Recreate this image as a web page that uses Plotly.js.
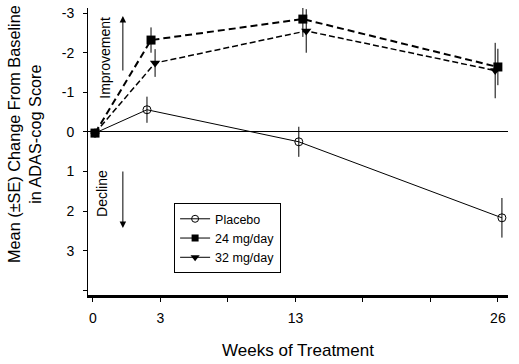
<!DOCTYPE html>
<html>
<head>
<meta charset="utf-8">
<script src="https://cdn.plot.ly/plotly-3.0.1.min.js"></script>
<style>html,body{margin:0;padding:0;background:#fff;}#chart{width:519px;height:364px;}</style>
</head>
<body>
<div id="chart"></div>
<script>
// Data
const weeks = [0, 3, 13, 26];
const tickLabels = ["0", "3", "", "13", "", "", "26"];
const placebo = [0.03, -0.56, 0.25, 2.17];
const placeboSE = [0, 0.33, 0.38, 0.5];
const mg24 = [0.03, -2.32, -2.85, -1.64];
const mg24SE = [0, 0.32, 0.45, 0.46];
const mg32 = [0.03, -1.74, -2.55, -1.55];
const mg32SE = [0, 0.35, 0.55, 0.7];

// ordinal axis slot for each week (axis is not to scale)
const slot = {0: 0, 3: 1, 13: 3, 26: 6};
function xs(offsets) { return weeks.map((w, i) => slot[w] + offsets[i]); }

const font = "Arial, 'Liberation Sans', sans-serif";

const traces = [
  {
    x: xs([0.03, -0.2, 0.05, 0.06]), y: placebo, type: 'scatter', mode: 'lines+markers',
    line: {color: 'black', width: 1}, showlegend: false,
    marker: {symbol: 'circle-open', size: 8, color: 'black', line: {width: 1}},
    error_y: {type: 'data', array: placeboSE, color: 'black', thickness: 1, width: 0}
  },
  {
    x: xs([0.03, -0.14, 0.11, 0.0]), y: mg24, type: 'scatter', mode: 'lines+markers',
    line: {color: 'black', width: 2, dash: '7px,4px'}, showlegend: false,
    marker: {symbol: 'square', size: 9, color: 'black'},
    error_y: {type: 'data', array: mg24SE, color: 'black', thickness: 1, width: 0}
  },
  {
    x: xs([0.03, -0.08, 0.16, -0.04]), y: mg32, type: 'scatter', mode: 'lines+markers',
    line: {color: 'black', width: 1.5, dash: '6px,3px'}, showlegend: false,
    marker: {symbol: 'triangle-down', size: 9, color: 'black'},
    error_y: {type: 'data', array: mg32SE, color: 'black', thickness: 1, width: 0}
  },
  // legend entries (solid line + marker)
  {x: [null], y: [null], type: 'scatter', mode: 'lines+markers', name: 'Placebo',
   line: {color: 'black', width: 1}, marker: {symbol: 'circle-open', size: 7, color: 'black'}},
  {x: [null], y: [null], type: 'scatter', mode: 'lines+markers', name: '24 mg/day',
   line: {color: 'black', width: 1}, marker: {symbol: 'square', size: 7, color: 'black'}},
  {x: [null], y: [null], type: 'scatter', mode: 'lines+markers', name: '32 mg/day',
   line: {color: 'black', width: 1}, marker: {symbol: 'triangle-down', size: 8, color: 'black'}}
];

const layout = {
  width: 519, height: 364,
  margin: {l: 88, r: 11, t: 8, b: 69},
  paper_bgcolor: 'white', plot_bgcolor: 'white',
  font: {family: font, color: 'black', size: 14},
  showlegend: true,
  legend: {
    x: 0.205, y: 0.32, xanchor: 'left', yanchor: 'top',
    bordercolor: 'black', borderwidth: 1, bgcolor: 'white',
    font: {family: font, size: 12.5, color: 'black'},
    tracegroupgap: 0, itemwidth: 30
  },
  xaxis: {
    range: [-0.074, 6.15], tickmode: 'array',
    tickvals: tickLabels.map((_, i) => i), ticktext: tickLabels,
    showline: true, linecolor: 'black', linewidth: 3,
    ticks: 'outside', ticklen: 4, tickcolor: 'black', tickwidth: 1,
    showgrid: false, zeroline: false, ticklabelstandoff: 4,
    tickfont: {size: 14},
    title: {text: 'Weeks of Treatment', font: {size: 17}, standoff: 20}
  },
  yaxis: {
    range: [4.12, -3.13], tickmode: 'array',
    tickvals: [-3, -2, -1, 0, 1, 2, 3, 4], ticktext: ['-3', '-2', '-1', '0', '1', '2', '3', ''],
    showline: true, linecolor: 'black', linewidth: 1,
    ticks: 'outside', ticklen: 4, tickcolor: 'black', tickwidth: 1,
    showgrid: false, zeroline: true, zerolinecolor: 'black', zerolinewidth: 1,
    ticklabelstandoff: 6, tickfont: {size: 14}
  },
  annotations: [
    {xref: 'paper', yref: 'paper', x: -0.15, y: 0.561,
     text: 'Mean (±SE) Change From Baseline<br>in ADAS-cog Score', textangle: -90,
     showarrow: false, font: {size: 16.3}, xanchor: 'center', yanchor: 'middle'},
    {xref: 'paper', yref: 'paper', x: 0.04, y: 0.826, text: 'Improvement', textangle: -90,
     showarrow: false, font: {size: 14}, xanchor: 'center', yanchor: 'middle'},
    {xref: 'paper', yref: 'paper', x: 0.033, y: 0.355, text: 'Decline', textangle: -90,
     showarrow: false, font: {size: 14}, xanchor: 'center', yanchor: 'middle'},
    {xref: 'paper', yref: 'paper', x: 0.083, y: (295 - 16) / 287, text: '', showarrow: true,
     axref: 'pixel', ayref: 'pixel', ax: 0, ay: 56, arrowhead: 2, arrowsize: 1.3, arrowwidth: 1, arrowcolor: 'black'},
    {xref: 'paper', yref: 'paper', x: 0.083, y: (295 - 228) / 287, text: '', showarrow: true,
     axref: 'pixel', ayref: 'pixel', ax: 0, ay: -58, arrowhead: 2, arrowsize: 1.3, arrowwidth: 1, arrowcolor: 'black'}
  ]
};

Plotly.newPlot('chart', traces, layout, {displayModeBar: false, staticPlot: true});
</script>
</body>
</html>
